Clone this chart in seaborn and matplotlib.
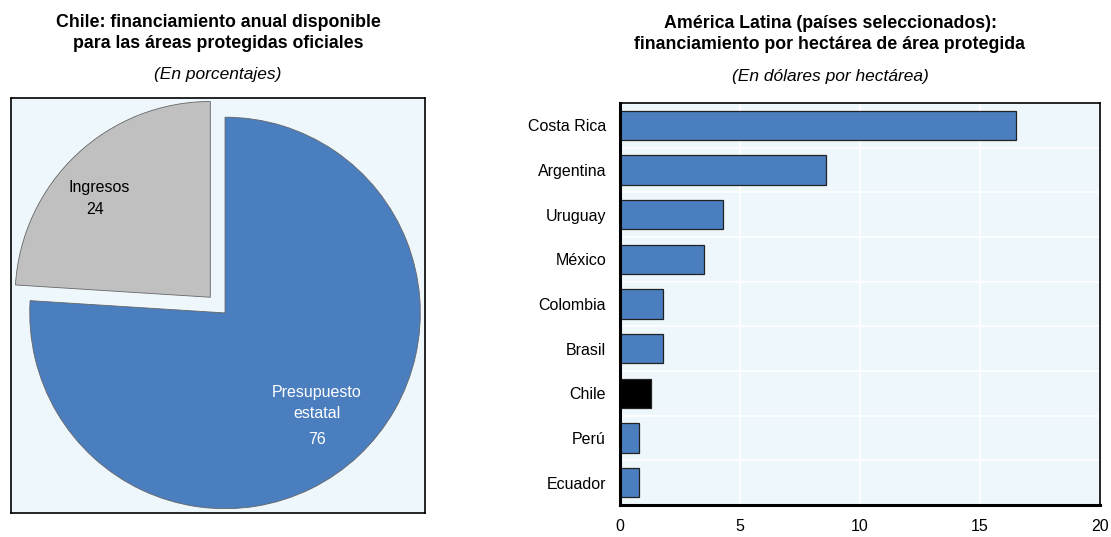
import numpy as np
import pandas as pd
import seaborn as sns
import matplotlib.pyplot as plt

# --- data ---
pie_labels = ["Ingresos", "Presupuesto\nestatal"]
pie_values = [24, 76]

countries = ["Costa Rica", "Argentina", "Uruguay", "México", "Colombia",
             "Brasil", "Chile", "Perú", "Ecuador"]
usd_per_ha = [16.5, 8.6, 4.3, 3.5, 1.8, 1.8, 1.3, 0.8, 0.8]
x_ticks = [0, 5, 10, 15, 20]

BLUE = "#4a7ebf"
GREY = "#c0c0c0"
PANEL_BG = "#eef7fb"

sns.set_theme(style="white")
plt.rcParams['font.family'] = ['Liberation Sans', 'DejaVu Sans']
plt.rcParams['text.color'] = 'black'
plt.rcParams['xtick.color'] = 'black'
plt.rcParams['ytick.color'] = 'black'

fig = plt.figure(figsize=(11.11, 5.37), dpi=100)
W, H = 1111, 537

def px_axes(x0, y0, x1, y1):
    return fig.add_axes([x0 / W, 1 - y1 / H, (x1 - x0) / W, (y1 - y0) / H])

# --- left: pie ---
ax1 = px_axes(11, 98, 425, 513)
wedges, _ = ax1.pie(pie_values, colors=[GREY, BLUE], startangle=90,
                    counterclock=True, explode=[0.11, 0.0],
                    wedgeprops=dict(edgecolor="#666666", linewidth=0.6))
ax1.set_xlim(-1.096, 1.024)
ax1.set_ylim(-1.022, 1.098)
ax1.set_aspect("auto")
ax1.set_frame_on(True)
ax1.set_facecolor(PANEL_BG)
for s in ax1.spines.values():
    s.set_visible(True)
    s.set_color("black")
    s.set_linewidth(1.2)

ax1.text(-0.80, 0.64, pie_labels[0], ha="left", va="center", fontsize=11.5)
ax1.text(-0.665, 0.53, str(pie_values[0]), ha="center", va="center", fontsize=11.5)
ax1.text(0.47, -0.46, pie_labels[1], ha="center", va="center", fontsize=11.5,
         color="white", linespacing=1.45)
ax1.text(0.47, -0.645, str(pie_values[1]), ha="center", va="center", fontsize=11.5, color="white")

fig.text(218 / W, 1 - 33 / H,
         "Chile: financiamiento anual disponible\npara las áreas protegidas oficiales",
         ha="center", va="center", fontsize=12.8, fontweight="bold", linespacing=1.25)
fig.text(218 / W, 1 - 75 / H, "(En porcentajes)", ha="center", va="center",
         fontsize=12.5, style="italic")

# --- right: bars ---
ax2 = px_axes(620, 103, 1100, 505)
df = pd.DataFrame({"country": countries, "value": usd_per_ha})
palette = {c: ("black" if c == "Chile" else BLUE) for c in countries}
sns.barplot(data=df, x="value", y="country", hue="country", palette=palette,
            legend=False, orient="h", width=0.65, saturation=1,
            edgecolor="#222222", linewidth=0.9, ax=ax2)
ax2.set_facecolor(PANEL_BG)
ax2.set_xlim(0, 20)
ax2.set_ylim(len(countries) - 0.5, -0.5)
ax2.set_xticks(x_ticks)
ax2.set_xlabel("")
ax2.set_ylabel("")
ax2.set_yticks(np.arange(len(countries)), countries)
ax2.set_yticks(np.arange(len(countries) - 1) + 0.5, minor=True)
ax2.grid(axis="x", color="white", linewidth=1.2)
ax2.grid(axis="y", which="minor", color="white", linewidth=1.2)
ax2.set_axisbelow(True)
ax2.tick_params(axis="y", which="major", length=0, pad=10, labelsize=11.5)
ax2.tick_params(axis="y", which="minor", direction="in", length=5, width=1.2, color="black")
ax2.tick_params(axis="x", direction="in", length=6, width=1.2, color="black",
                pad=10, labelsize=11.5)
for name, s in ax2.spines.items():
    s.set_visible(True)
    s.set_color("black")
    s.set_linewidth(2.2 if name in ("left", "bottom") else 1.2)

fig.text(830 / W, 1 - 34 / H,
         "América Latina (países seleccionados):\nfinanciamiento por hectárea de área protegida",
         ha="center", va="center", fontsize=12.8, fontweight="bold", linespacing=1.25)
fig.text(830 / W, 1 - 76 / H, "(En dólares por hectárea)", ha="center", va="center",
         fontsize=12.5, style="italic")

fig.savefig("out.png", dpi=100)
